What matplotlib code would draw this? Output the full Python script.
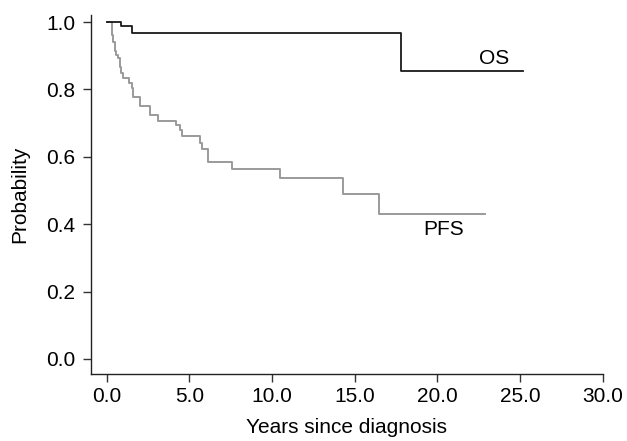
import matplotlib
matplotlib.use("Agg")
import matplotlib.pyplot as plt

# Kaplan-Meier curves
os_time = [0.0, 0.89, 1.55, 17.8, 25.2]
os_prob = [1.0, 0.987, 0.968, 0.855, 0.855]

pfs_time = [0.0, 0.30, 0.38, 0.48, 0.59, 0.69, 0.79, 0.89, 0.99, 1.35, 1.50,
            1.60, 2.04, 2.61, 3.11, 4.17, 4.42, 4.58, 5.63, 5.75, 6.13, 7.60,
            10.47, 14.30, 16.47, 22.9]
pfs_prob = [1.0, 0.96, 0.942, 0.915, 0.902, 0.892, 0.867, 0.848, 0.833, 0.818,
            0.803, 0.778, 0.751, 0.724, 0.707, 0.694, 0.68, 0.662, 0.640, 0.622,
            0.586, 0.565, 0.538, 0.490, 0.430, 0.430]

x_ticks = [0, 5, 10, 15, 20, 25, 30]
y_ticks = [0.0, 0.2, 0.4, 0.6, 0.8, 1.0]

plt.rcParams["font.family"] = ["Liberation Sans", "DejaVu Sans"]
fs = 15

fig = plt.figure(figsize=(6.27, 4.41), dpi=100)
W, H = 627, 441
left, right, bottom = 90.7, 602.7, 373.7
# y: 0.0 at px 359, 1.0 at px 22
ppu = 337.0
ymin = -(bottom - 359) / ppu
ymax = 1.02
top = 359 - ymax * ppu
ax = fig.add_axes([left / W, 1 - bottom / H, (right - left) / W, (bottom - top) / H])

ax.step(pfs_time, pfs_prob, where="post", color="#9a9a9a", lw=1.4)
ax.step(os_time, os_prob, where="post", color="#1a1a1a", lw=1.3)

ax.text(22.5, 0.864, "OS", ha="left", va="bottom", fontsize=fs)
ax.text(19.15, 0.383, "PFS", ha="left", va="center", fontsize=fs)

ax.set_xlim(-0.968, 30)
ax.set_ylim(ymin, ymax)
ax.set_xticks(x_ticks)
ax.set_xticklabels([f"{v:.1f}" for v in x_ticks])
ax.set_yticks(y_ticks)
ax.set_yticklabels([f"{v:.1f}" for v in y_ticks])
ax.tick_params(direction="out", length=6, width=1, color="#333333", labelsize=fs)
ax.tick_params(axis="x", pad=3.5)
ax.tick_params(axis="y", pad=5)

for s in ["top", "right"]:
    ax.spines[s].set_visible(False)
for s in ["left", "bottom"]:
    ax.spines[s].set_linewidth(1)
    ax.spines[s].set_color("#222222")

ax.set_xlabel("Years since diagnosis", fontsize=fs, labelpad=9)
ax.set_ylabel("Probability", fontsize=fs, labelpad=12)

fig.savefig("out.png", dpi=100)
